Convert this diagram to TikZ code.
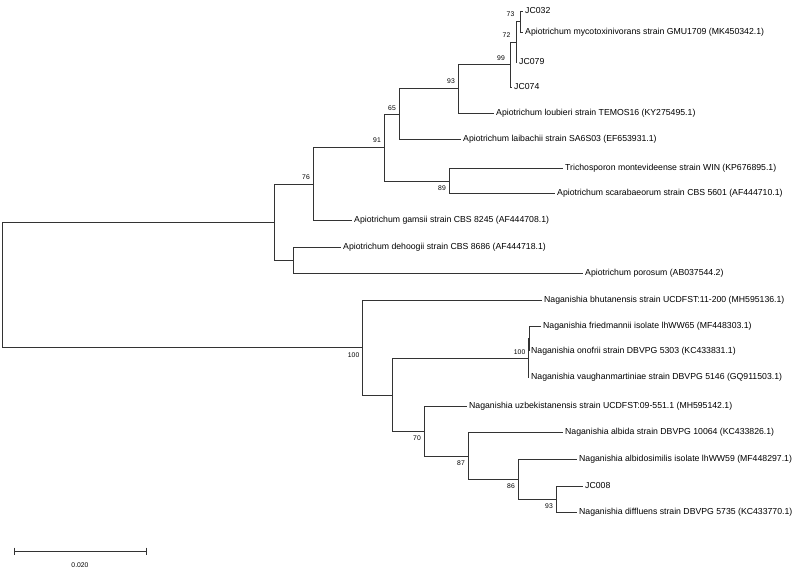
\documentclass[tikz,border=0pt]{standalone}
\usepackage{fontspec}
\setmainfont{Liberation Sans}
\usetikzlibrary{positioning}

\begin{document}
\begin{tikzpicture}[x=1pt, y=-1pt,
    branch/.style={draw=black!80, line width=0.9pt},
    leaf/.style={anchor=west, inner sep=2pt, text height=6.3pt, text depth=1.9pt, font=\fontsize{8.7}{10}\selectfont},
    boot/.style={inner sep=0.5pt, font=\fontsize{6.8}{7}\selectfont}]
    \useasboundingbox (0,0) rectangle (793,576);

    \coordinate (root) at (2,285);
    \coordinate (np) at (274,222);
    \coordinate (n76) at (313,184);
    \coordinate (n91) at (384,147);
    \coordinate (n65) at (399,114);
    \coordinate (n93) at (458,88);
    \coordinate (n99) at (510,64);
    \coordinate (n72) at (516,42);
    \coordinate (n73) at (520,21);
    \coordinate (n89) at (449,181);
    \coordinate (nd) at (293,260);
    \coordinate (n100) at (362,347);
    \coordinate (nq) at (392,395);
    \coordinate (n100i) at (528,358);
    \coordinate (nfo) at (529,338);
    \coordinate (n70) at (424,431);
    \coordinate (n87) at (468,456);
    \coordinate (n86) at (518,479);
    \coordinate (n93b) at (556,499);

    \node[leaf] (jc032) at (523,11) {JC032};
    \node[leaf] (myco) at (523,32) {Apiotrichum mycotoxinivorans strain GMU1709 (MK450342.1)};
    \node[leaf] (jc079) at (517,62) {JC079};
    \node[leaf] (jc074) at (512,87) {JC074};
    \node[leaf] (loubieri) at (494,113) {Apiotrichum loubieri strain TEMOS16 (KY275495.1)};
    \node[leaf] (laibachii) at (461,139) {Apiotrichum laibachii strain SA6S03 (EF653931.1)};
    \node[leaf] (tricho) at (563,168) {Trichosporon montevideense strain WIN (KP676895.1)};
    \node[leaf] (scarab) at (555,193) {Apiotrichum scarabaeorum strain CBS 5601 (AF444710.1)};
    \node[leaf] (gamsii) at (352,220) {Apiotrichum gamsii strain CBS 8245 (AF444708.1)};
    \node[leaf] (dehoogii) at (341,247) {Apiotrichum dehoogii strain CBS 8686 (AF444718.1)};
    \node[leaf] (porosum) at (583,273) {Apiotrichum porosum (AB037544.2)};
    \node[leaf] (bhutan) at (542,300) {Naganishia bhutanensis strain UCDFST:11-200 (MH595136.1)};
    \node[leaf] (fried) at (541,326) {Naganishia friedmannii isolate lhWW65 (MF448303.1)};
    \node[leaf] (onofrii) at (529,351) {Naganishia onofrii strain DBVPG 5303 (KC433831.1)};
    \node[leaf] (vaughan) at (529,377) {Naganishia vaughanmartiniae strain DBVPG 5146 (GQ911503.1)};
    \node[leaf] (uzbek) at (467,406) {Naganishia uzbekistanensis strain UCDFST:09-551.1 (MH595142.1)};
    \node[leaf] (albida) at (563,432) {Naganishia albida strain DBVPG 10064 (KC433826.1)};
    \node[leaf] (albidosim) at (577,459) {Naganishia albidosimilis isolate lhWW59 (MF448297.1)};
    \node[leaf] (jc008) at (583,486) {JC008};
    \node[leaf] (diffluens) at (577,512) {Naganishia diffluens strain DBVPG 5735 (KC433770.1)};

    \draw[branch] (n73) |- (jc032);
    \draw[branch] (n73) |- (myco);
    \draw[branch] (n72) |- (n73);
    \draw[branch] (n72) |- (jc079);
    \draw[branch] (n99) |- (n72);
    \draw[branch] (n99) |- (jc074);
    \draw[branch] (n93) |- (n99);
    \draw[branch] (n93) |- (loubieri);
    \draw[branch] (n65) |- (n93);
    \draw[branch] (n65) |- (laibachii);
    \draw[branch] (n89) |- (tricho);
    \draw[branch] (n89) |- (scarab);
    \draw[branch] (n91) |- (n65);
    \draw[branch] (n91) |- (n89);
    \draw[branch] (n76) |- (n91);
    \draw[branch] (n76) |- (gamsii);
    \draw[branch] (nd) |- (dehoogii);
    \draw[branch] (nd) |- (porosum);
    \draw[branch] (np) |- (n76);
    \draw[branch] (np) |- (nd);
    \draw[branch] (nfo) |- (fried);
    \draw[branch] (nfo) |- (onofrii);
    \draw[branch] (n100i) |- (nfo);
    \draw[branch] (n100i) |- (vaughan);
    \draw[branch] (n93b) |- (jc008);
    \draw[branch] (n93b) |- (diffluens);
    \draw[branch] (n86) |- (albidosim);
    \draw[branch] (n86) |- (n93b);
    \draw[branch] (n87) |- (albida);
    \draw[branch] (n87) |- (n86);
    \draw[branch] (n70) |- (uzbek);
    \draw[branch] (n70) |- (n87);
    \draw[branch] (nq) |- (n100i);
    \draw[branch] (nq) |- (n70);
    \draw[branch] (n100) |- (bhutan);
    \draw[branch] (n100) |- (nq);
    \draw[branch] (root) |- (np);
    \draw[branch] (root) |- (n100);

    \node[boot, above left=4pt and 5pt of n73] (b73) {73};
    \node[boot, above left=4pt and 5pt of n72] (b72) {72};
    \node[boot, above left=3pt and 4.5pt of n99] (b99) {99};
    \node[boot, above left=4pt and 2.5pt of n93] (b93) {93};
    \node[boot, above left=3pt and 2.5pt of n65] (b65) {65};
    \node[boot, above left=4pt and 2.5pt of n91] (b91) {91};
    \node[boot, above left=4pt and 2.5pt of n76] (b76) {76};
    \node[boot, below left=4pt and 2.5pt of n89] (b89) {89};
    \node[boot, below left=5pt and 2pt of n100] (b100) {100};
    \node[boot, above left=3pt and 2pt of n100i] (b100i) {100};
    \node[boot, below left=4pt and 2.5pt of n70] (b70) {70};
    \node[boot, below left=4pt and 2.5pt of n87] (b87) {87};
    \node[boot, below left=4pt and 2.5pt of n86] (b86) {86};
    \node[boot, below left=4pt and 2.5pt of n93b] (b93b) {93};

    \coordinate (sbl) at (14,551);
    \coordinate (sbr) at (146,551);
    \draw[branch] (sbl) -- (sbr);
    \draw[branch] ([yshift=3.5pt]sbl) -- ([yshift=-3.5pt]sbl);
    \draw[branch] ([yshift=3.5pt]sbr) -- ([yshift=-3.5pt]sbr);
    \node[boot] (sblabel) at (80,565) {0.020};
\end{tikzpicture}
\end{document}
